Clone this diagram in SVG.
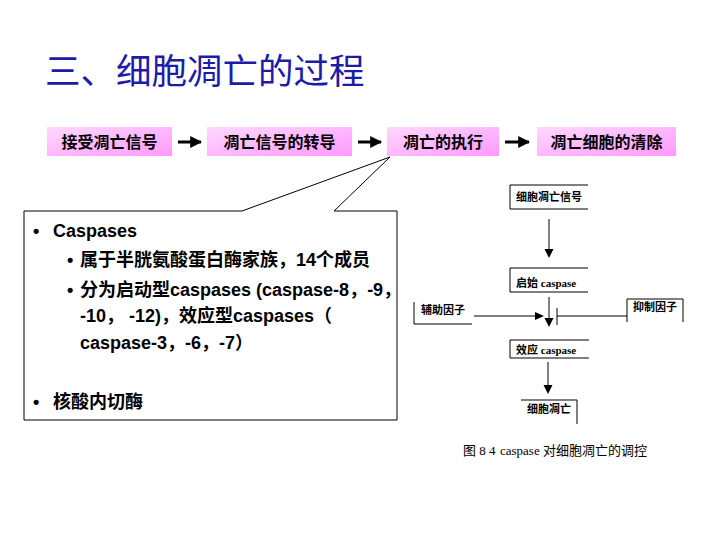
<svg xmlns="http://www.w3.org/2000/svg" width="720" height="540" viewBox="0 0 720 540">
<defs>
<linearGradient id="pink" x1="0" y1="0" x2="1" y2="1">
<stop offset="0" stop-color="#ffd8ff"/>
<stop offset="1" stop-color="#ff99ff"/>
</linearGradient>
<marker id="ah" viewBox="0 0 10 10" refX="9" refY="5" markerWidth="4" markerHeight="4" orient="auto">
<path d="M0,0 L10,5 L0,10 Z" fill="#000"/>
</marker>
</defs>
<style>
.title{font-family:"Liberation Sans","Noto Sans CJK SC",sans-serif;font-size:35.5px;fill:#1c1ca8}
.pbox{fill:url(#pink);stroke:none}
.ptxt{font-family:"Liberation Sans","Noto Sans CJK SC",sans-serif;font-size:16px;font-weight:bold;fill:#000;text-anchor:middle}
.body{font-family:"Liberation Sans","Noto Sans CJK SC",sans-serif;font-size:18px;font-weight:bold;fill:#000}
.fig{font-family:"Liberation Serif","Noto Sans CJK SC",serif;font-size:11px;font-weight:bold;fill:#000}
.cap{font-family:"Liberation Serif","Noto Sans CJK SC",serif;font-size:13px;fill:#000}
.ln{stroke:#000;stroke-width:1;fill:none}
.thick{stroke:#000;stroke-width:3;fill:none}
</style>
<rect width="720" height="540" fill="#fff"/>
<text class="title" x="45" y="84">三、细胞凋亡的过程</text>

<g id="step1"><rect class="pbox" x="47" y="127" width="125" height="29"/><text class="ptxt" x="109.5" y="148">接受凋亡信号</text></g>
<g id="step2"><rect class="pbox" x="207" y="127" width="145" height="29"/><text class="ptxt" x="279.5" y="148">凋亡信号的转导</text></g>
<g id="step3"><rect class="pbox" x="387" y="127" width="112" height="29"/><text class="ptxt" x="443" y="148">凋亡的执行</text></g>
<g id="step4"><rect class="pbox" x="537" y="127" width="139" height="29"/><text class="ptxt" x="606.5" y="148">凋亡细胞的清除</text></g>

<g id="callout">
<path class="ln" d="M24,211 H242 L390,157 L334,211 H397 V420 H24 Z" fill="#fff"/>
<text class="body" x="33" y="237">•</text>
<text class="body" x="53" y="237" font-weight="normal">Caspases</text>
<text class="body" x="67" y="266">•</text>
<text class="body" x="80" y="266">属于半胱氨酸蛋白酶家族，14个成员</text>
<text class="body" x="67" y="296">•</text>
<text class="body" x="80" y="296">分为启动型caspases (caspase-8，-9，</text>
<text class="body" x="80" y="322">-10， -12)，效应型caspases（</text>
<text class="body" x="80" y="349">caspase-3，-6，-7）</text>
<text class="body" x="33" y="408">•</text>
<text class="body" x="53" y="408">核酸内切酶</text>
</g>

<g id="connectors">
<line class="thick" x1="178" y1="142" x2="201" y2="142" marker-end="url(#ah)"/>
<line class="thick" x1="358" y1="142" x2="381" y2="142" marker-end="url(#ah)"/>
<line class="thick" x1="505" y1="142" x2="529" y2="142" marker-end="url(#ah)"/>
<line class="ln" x1="549" y1="219" x2="549" y2="250"/>
<polygon points="544.5,249 553.5,249 549,258"/>
<line class="ln" x1="549" y1="297" x2="549" y2="319"/>
<polygon points="544.5,318 553.5,318 549,327"/>
<line class="ln" x1="474" y1="316" x2="537" y2="316"/>
<polygon points="535,312 535,320 544,316"/>
<line class="ln" x1="557" y1="308" x2="557" y2="325"/>
<line class="ln" x1="557" y1="316" x2="627" y2="316"/>
<line class="ln" x1="548" y1="362" x2="548" y2="386"/>
<polygon points="543.5,385 552.5,385 548,394"/>
</g>

<g id="signal"><path class="ln" d="M588,185 H510 V209 H588"/><text class="fig" x="516" y="201">细胞凋亡信号</text></g>
<g id="initiator"><path class="ln" d="M588,268 H510 V292 H588"/><text class="fig" x="516" y="287">启始 caspase</text></g>
<g id="helper"><path class="ln" d="M414,302 V324 H472"/><text class="fig" x="421" y="314">辅助因子</text></g>
<g id="inhibitor"><path class="ln" d="M627,322 V299 H683 V322"/><text class="fig" x="633" y="311">抑制因子</text></g>
<g id="effector"><path class="ln" d="M589,340 H510 V358 H589"/><text class="fig" x="516" y="354">效应 caspase</text></g>
<g id="apoptosis"><path class="ln" d="M521,400 H577 V424"/><text class="fig" x="527" y="413">细胞凋亡</text></g>
<g id="caption"><text class="cap" x="463" y="455">图 8 4</text><text class="cap" x="500" y="455">caspase 对细胞凋亡的调控</text></g>
</svg>
